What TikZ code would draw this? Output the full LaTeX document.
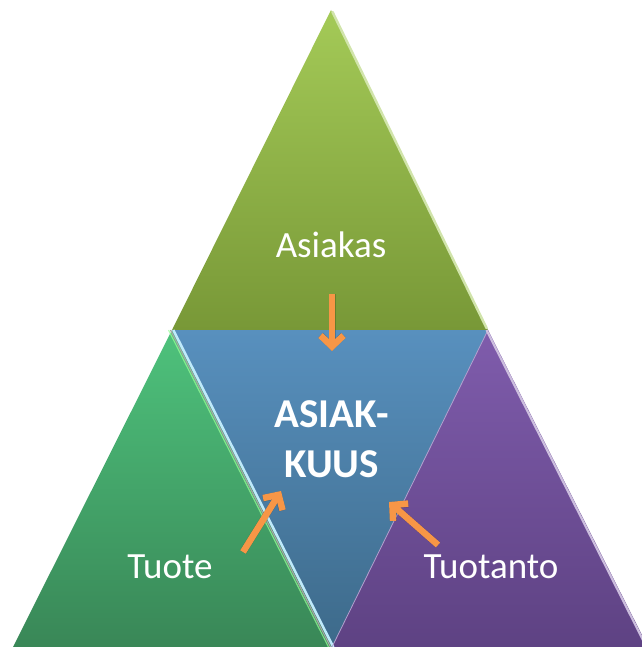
\documentclass[tikz,border=0pt]{standalone}
\usepackage{fontspec}
\setmainfont{Carlito}
\usetikzlibrary{arrows.meta,calc}

\definecolor{topA}{HTML}{A4CA57}
\definecolor{topB}{HTML}{789837}
\definecolor{blueA}{HTML}{5890BE}
\definecolor{blueB}{HTML}{3D6A8A}
\definecolor{greenA}{HTML}{4EC27C}
\definecolor{greenB}{HTML}{398757}
\definecolor{purpA}{HTML}{7F5CAC}
\definecolor{purpB}{HTML}{5E4283}
\definecolor{arrowc}{HTML}{F79646}

\tikzset{
  label/.style={text=white, inner sep=0pt, anchor=base, font=\fontsize{37}{44}\selectfont},
  biglabel/.style={text=white, inner sep=0pt, anchor=base, font=\fontsize{41}{50}\selectfont\bfseries},
  pointer/.style={draw=arrowc, line width=6.5pt,
    -{Straight Barb[length=11pt, width=23pt, line width=6.5pt]}},
  pointershadow/.style={draw=black, opacity=0.18, line width=7pt,
    -{Straight Barb[length=11pt, width=23pt, line width=7pt]}},
}

\begin{document}
\begin{tikzpicture}[x=1pt, y=-1pt]
  \useasboundingbox (0,0) rectangle (641,647);

  % corner points of the pyramid
  \coordinate (apex) at (331,10);
  \coordinate (ml) at (172,330);
  \coordinate (mr) at (488,330);
  \coordinate (bl) at (13,647);
  \coordinate (bm) at (332,647);
  \coordinate (br) at (648,647);

  % four triangles
  \shade[top color=topA, bottom color=topB] (apex) -- (mr) -- (ml) -- cycle;
  \shade[top color=greenA, bottom color=greenB] (ml) -- (bm) -- (bl) -- cycle;
  \shade[top color=purpA, bottom color=purpB] (mr) -- (br) -- (bm) -- cycle;
  \shade[top color=blueA, bottom color=blueB] (ml) -- (mr) -- (bm) -- cycle;

  % bevel highlights along the edges
  \draw[line width=2.5pt, color=white!50!topA, line cap=round]
    ($(apex)+(1.5,2)$) -- ($(mr)+(-1.5,-2)$);
  \draw[line width=1.2pt, color=gray!70] ($(ml)+(-1.5,0)$) -- ($(bm)+(-1.5,0)$);
  \draw[line width=2.5pt, color=cyan!25!white] ($(ml)+(1.3,0)$) -- ($(bm)+(1.3,0)$);
  \draw[line width=1.2pt, color=green!40!white, opacity=0.7] ($(ml)+(-3.5,0)$) -- ($(bm)+(-3.5,0)$);
  \draw[line width=0.8pt, color=purpA!60!white] (mr) -- (bm);
  \draw[line width=2.2pt, color=purpA!40!white] ($(mr)+(-1.5,0)$) -- ($(br)+(-1.5,0)$);

  % labels
  \node[label] (asiakas) at (331,257) {Asiakas};
  \node[biglabel] (asiak) at (331.5,427) {ASIAK-};
  \node[biglabel] (kuus) at (331.5,477) {KUUS};
  \node[label] (tuote) at (170,578) {Tuote};
  \node[label] (tuotanto) at (491,578) {Tuotanto};

  % arrows toward the centre
  \coordinate (d0) at (332,294);
  \coordinate (d1) at (332,351);
  \coordinate (l0) at (243,552);
  \coordinate (l1) at (281,491);
  \coordinate (r0) at (438,545);
  \coordinate (r1) at (389,502);

  \begin{scope}[shift={(2,3)}]
    \draw[pointershadow] (d0) -- (d1);
    \draw[pointershadow] (l0) -- (l1);
    \draw[pointershadow] (r0) -- (r1);
  \end{scope}
  \draw[pointer] (d0) -- (d1);
  \draw[pointer] (l0) -- (l1);
  \draw[pointer] (r0) -- (r1);
\end{tikzpicture}
\end{document}
